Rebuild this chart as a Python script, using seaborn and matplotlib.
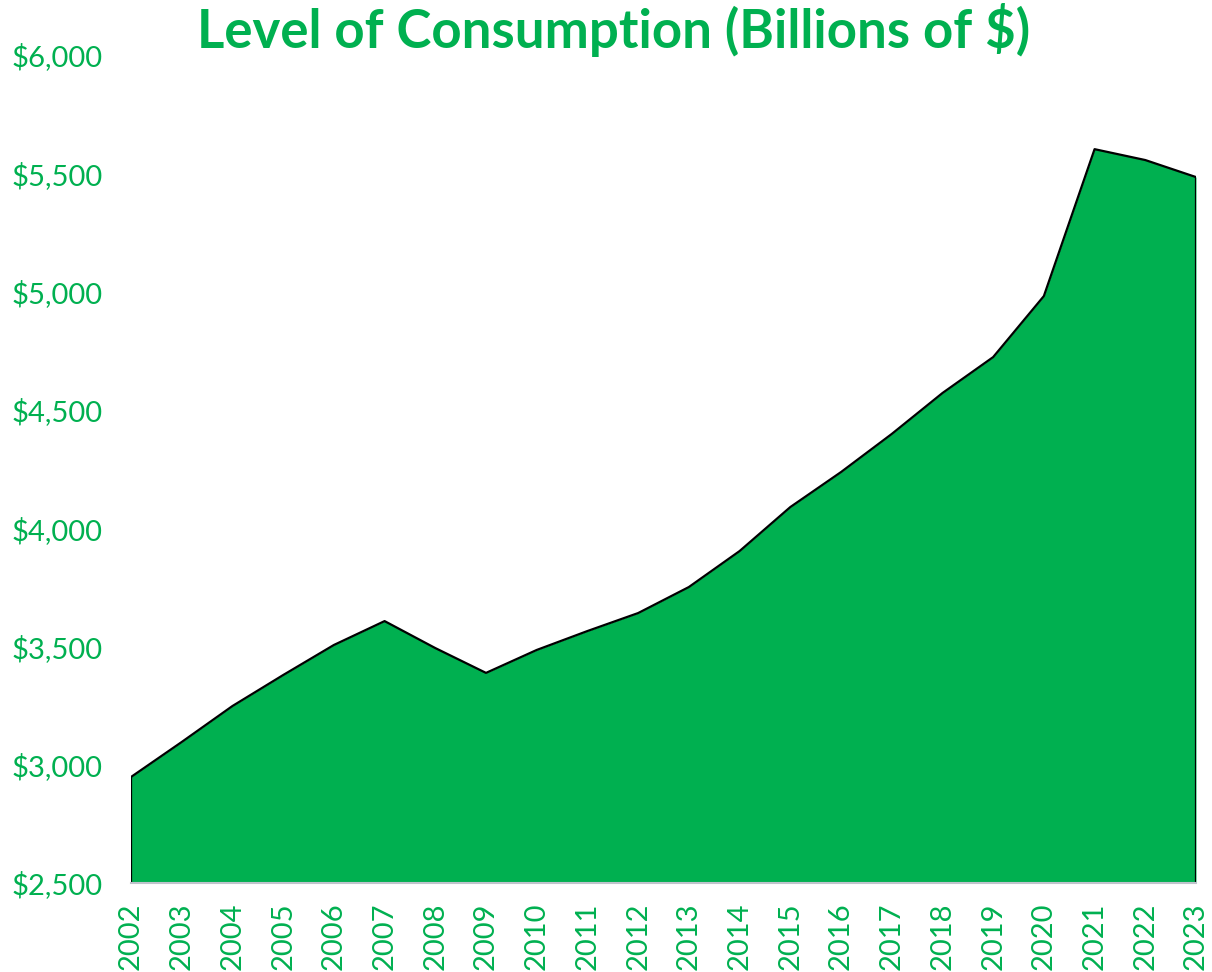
"""Area chart: level of consumption, billions of dollars."""

import matplotlib.pyplot as plt
import pandas as pd
import seaborn as sns

years = list(range(2002, 2024))
consumption = [2948, 3096, 3248, 3379, 3506, 3607, 3493, 3388, 3485, 3565, 3641,
               3751, 3903, 4089, 4237, 4398, 4571, 4723, 4981, 5602, 5556, 5484]
y_ticks = [2500, 3000, 3500, 4000, 4500, 5000, 5500, 6000]
title = "Level of Consumption (Billions of $)"

GREEN = "#00b050"

df = pd.DataFrame({"pos": range(len(years)), "year": years, "value": consumption})

sns.set_style("white")
plt.rcParams["font.family"] = ["Lato", "DejaVu Sans"]

fig = plt.figure(figsize=(12.12, 9.72), dpi=100)
ax = fig.add_axes([0.1081, 0.0916, 0.8787, 0.8518])

base = y_ticks[0]
ax.fill_between(df["pos"], df["value"], base, color=GREEN, linewidth=0)
# outline: top edge plus the two vertical ends
edge_x = [df["pos"].iloc[0]] + list(df["pos"]) + [df["pos"].iloc[-1]]
edge_y = [base] + list(df["value"]) + [base]
sns.lineplot(x=edge_x, y=edge_y, sort=False, estimator=None, color="black",
             linewidth=1.6, ax=ax)

ax.set_xlim(0, len(years) - 1)
ax.set_ylim(y_ticks[0], y_ticks[-1])
ax.set_xticks(df["pos"])
ax.set_xticklabels([str(y) for y in years], rotation=90, color=GREEN, fontsize=21)
ax.set_yticks(y_ticks)
ax.set_yticklabels([f"${v:,}" for v in y_ticks], color=GREEN, fontsize=21)
ax.tick_params(axis="x", length=10, width=1.2, color="#d9dde6", pad=4, direction="out")
ax.tick_params(axis="y", length=0)
for lbl in ax.get_yticklabels():
    lbl.set_horizontalalignment("left")
ax.yaxis.set_tick_params(pad=86)

for side in ["top", "right", "left"]:
    ax.spines[side].set_visible(False)
ax.spines["bottom"].set_color("#bfc3cc")
ax.spines["bottom"].set_linewidth(1.5)
ax.grid(False)

fig.text(0.506, 0.969, title, ha="center", va="center", color=GREEN,
         fontsize=38, fontweight="bold")

fig.savefig("out.png", dpi=100)
plt.close(fig)
